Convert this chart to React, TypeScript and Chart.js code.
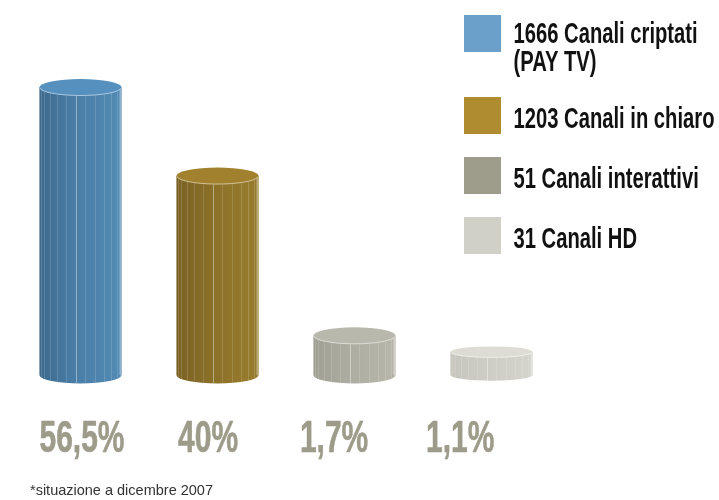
import React, { useEffect, useRef } from "react";
import { Chart, registerables } from "chart.js";

Chart.register(...registerables);

// Categories (legend entries)
const categories = [
  "1666 Canali criptati (PAY TV)",
  "1203 Canali in chiaro",
  "51 Canali interattivi",
  "31 Canali HD",
];
const legendLines = [
  ["1666 Canali criptati", "(PAY TV)"],
  ["1203 Canali in chiaro"],
  ["51 Canali interattivi"],
  ["31 Canali HD"],
];
// Shares printed under each cylinder (%)
const shares = [56.5, 40, 1.7, 1.1];
const shareLabels = ["56,5%", "40%", "1,7%", "1,1%"];
// Cylinder heights as drawn in the source (same % units; the source
// exaggerates the two small bars so they stay visible)
const drawnHeights = [56.5, 39.1, 7.7, 4.5];
const footnote = "*situazione a dicembre 2007";

const palette = [
  { legend: "#6aa0c9", top: "#5590bf", dark: "#3d6a8e", mid: "#4a7ea7", light: "#5189b3" },
  { legend: "#b08c30", top: "#a1812e", dark: "#7a6224", mid: "#8b7029", light: "#977b2d" },
  { legend: "#9e9c8a", top: "#b9b8ac", dark: "#a09f93", mid: "#aeada1", light: "#b6b5a9" },
  { legend: "#d0d0c6", top: "#dcdcd5", dark: "#c6c6be", mid: "#cdcdc5", light: "#d3d3cb" },
];

function drawCylinder(ctx: CanvasRenderingContext2D, cx: number, topY: number, baseY: number, w: number, c: any) {
  const r = w / 2;
  const ry = Math.min(8.5, (baseY - topY) * 0.25);
  ctx.save();
  ctx.beginPath();
  ctx.moveTo(cx - r, topY);
  ctx.lineTo(cx - r, baseY);
  ctx.ellipse(cx, baseY, r, ry, 0, Math.PI, 0, true);
  ctx.lineTo(cx + r, topY);
  ctx.closePath();
  const g = ctx.createLinearGradient(cx - r, 0, cx + r, 0);
  g.addColorStop(0, c.dark);
  g.addColorStop(0.45, c.mid);
  g.addColorStop(0.92, c.light);
  g.addColorStop(1, c.light);
  ctx.fillStyle = g;
  ctx.fill();
  ctx.save();
  ctx.clip();
  const N = 13;
  for (let k = 1; k < N; k++) {
    const th = (Math.PI * k) / N;
    const x = Math.round(cx - r * Math.cos(th)) + 0.5;
    const dy = ry * Math.sin(th);
    ctx.beginPath();
    ctx.moveTo(x, topY + dy);
    ctx.lineTo(x, baseY + dy);
    ctx.strokeStyle = k === 6 ? "rgba(255,255,255,0.4)" : "rgba(255,255,255,0.15)";
    ctx.lineWidth = 1;
    ctx.stroke();
  }
  ctx.beginPath();
  ctx.moveTo(cx + r - 1.5, topY);
  ctx.lineTo(cx + r - 1.5, baseY);
  ctx.strokeStyle = "rgba(255,255,255,0.3)";
  ctx.lineWidth = 1.5;
  ctx.stroke();
  ctx.restore();
  ctx.beginPath();
  ctx.ellipse(cx, topY, r, ry, 0, 0, Math.PI * 2);
  ctx.fillStyle = c.top;
  ctx.fill();
  ctx.beginPath();
  ctx.ellipse(cx, topY, r - 0.5, ry - 0.5, 0, 0.05, Math.PI - 0.05);
  ctx.strokeStyle = "rgba(255,255,255,0.5)";
  ctx.lineWidth = 1;
  ctx.stroke();
  ctx.restore();
}

function condensedText(ctx: CanvasRenderingContext2D, text: string, x: number, y: number, sx: number, align: CanvasTextAlign, weight: number) {
  ctx.save();
  ctx.translate(x, y);
  ctx.scale(sx, 1);
  ctx.textAlign = align;
  ctx.textBaseline = "alphabetic";
  ctx.fillText(text, 0, 0);
  if (weight > 0) {
    ctx.lineWidth = weight;
    ctx.lineJoin = "round";
    ctx.strokeStyle = ctx.fillStyle as string;
    ctx.strokeText(text, 0, 0);
  }
  ctx.restore();
}

const cylinderPlugin = {
  id: "cylinders",
  afterDatasetsDraw(chart: any) {
    const ctx = chart.ctx as CanvasRenderingContext2D;
    const meta = chart.getDatasetMeta(0);
    meta.data.forEach((bar: any, i: number) => {
      const p = bar.getProps(["x", "y", "base", "width"], true);
      drawCylinder(ctx, p.x, p.y, p.base, p.width, palette[i]);
    });
  },
  afterDraw(chart: any) {
    const ctx = chart.ctx as CanvasRenderingContext2D;
    const meta = chart.getDatasetMeta(0);
    const x0 = meta.data[0].x + 1.5;
    const pitch = ((meta.data[meta.data.length - 1].x - meta.data[0].x) / (meta.data.length - 1)) * 0.92;
    // percentage labels (condensed to the source's narrow face)
    ctx.fillStyle = "#9d9b89";
    ctx.font = "bold 44px 'Liberation Sans', Arial, sans-serif";
    const sLab = 85 / ctx.measureText(shareLabels[0]).width;
    shareLabels.forEach((t, i) => condensedText(ctx, t, x0 + i * pitch, 451.5, sLab, "center", 0.6));
    // legend
    let top = 15;
    const sq = 37;
    ctx.font = "bold 29px 'Liberation Sans', Arial, sans-serif";
    const sLeg = 201 / ctx.measureText(legendLines[1][0]).width;
    legendLines.forEach((lines, i) => {
      ctx.fillStyle = palette[i].legend;
      ctx.fillRect(464, top, sq, sq);
      ctx.fillStyle = "#111111";
      const first = lines.length > 1 ? top + 28 : top + 31;
      lines.forEach((ln, k) => condensedText(ctx, ln, 513.5, first + k * 28, sLeg, "left", 0));
      top += 60 + (lines.length - 1) * 22;
    });
    // footnote
    ctx.fillStyle = "#333333";
    ctx.font = "14.5px 'Liberation Sans', Arial, sans-serif";
    ctx.textAlign = "left";
    ctx.fillText(footnote, 30, 495);
  },
};

export default function App() {
  const ref = useRef<HTMLCanvasElement | null>(null);
  useEffect(() => {
    document.body.style.margin = "0";
    const canvas = ref.current!;
    const chart = new Chart(canvas, {
      type: "bar",
      data: {
        labels: categories,
        datasets: [
          {
            label: "Canali",
            data: drawnHeights,
            backgroundColor: "rgba(0,0,0,0)",
            borderWidth: 0,
            barPercentage: 0.6,
            categoryPercentage: 1,
          },
        ],
      },
      options: {
        responsive: false,
        animation: false,
        layout: { padding: { left: 12, right: 159, top: 69.7, bottom: 125 } },
        scales: {
          x: { display: false },
          y: { display: false, min: 0, max: 60 },
        },
        plugins: { legend: { display: false }, tooltip: { enabled: false } },
      },
      plugins: [cylinderPlugin],
    });
    return () => chart.destroy();
  }, []);
  return (
    <div style={{ width: 719, height: 500, background: "#ffffff" }}>
      <canvas ref={ref} width={719} height={500} data-shares={shares.join(",")} />
    </div>
  );
}
